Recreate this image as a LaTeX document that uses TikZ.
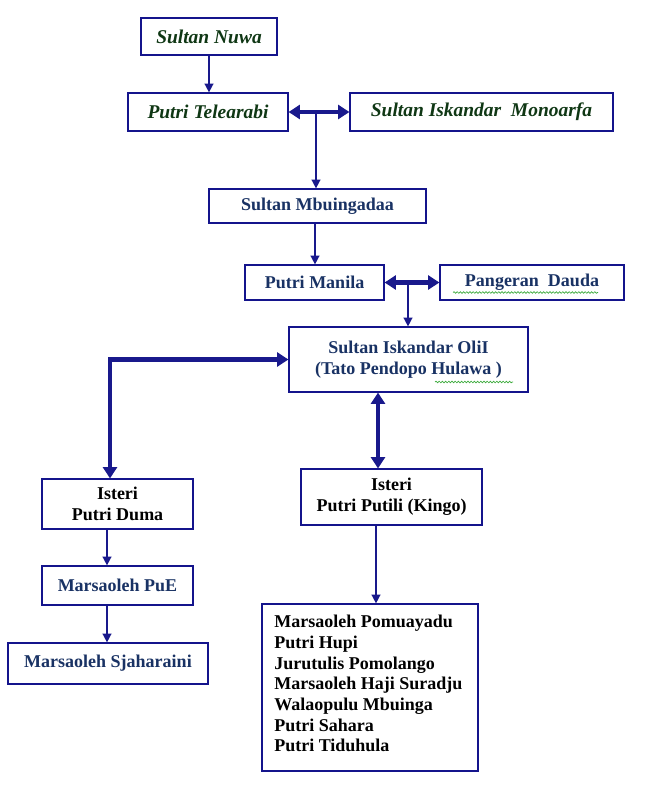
\documentclass[tikz,border=0pt]{standalone}
\usepackage{fontspec}
\setmainfont{Liberation Serif}
\usetikzlibrary{arrows.meta,decorations.pathmorphing,calc}
\definecolor{bordc}{RGB}{20,20,140}
\definecolor{arrc}{RGB}{25,25,140}
\definecolor{greentxt}{RGB}{15,55,20}
\definecolor{navytxt}{RGB}{25,50,100}
\definecolor{squig}{RGB}{60,170,60}
\begin{document}
\begin{tikzpicture}[x=0.75pt,y=-0.75pt,
  box/.style n args={2}{draw=bordc, line width=0.9pt, fill=white, inner sep=0pt,
    minimum width=#1*0.75pt, minimum height=#2*0.75pt, align=center,
    font=\fontsize{13.5}{15.5}\selectfont\bfseries},
  gtxt/.style={text=greentxt, font=\fontsize{14.6}{16}\selectfont\bfseries\itshape},
  ntxt/.style={text=navytxt},
  btxt/.style={text=black},
  thin/.style={draw=arrc, line width=1.1pt, -{Triangle[length=6.5pt,width=6.5pt]}},
  thick/.style={draw=arrc, line width=3.2pt, {Triangle[length=8.5pt,width=10.5pt]}-{Triangle[length=8.5pt,width=10.5pt]}},
  squiggle/.style={draw=squig, line width=0.5pt, decorate, decoration={snake, segment length=2.4pt, amplitude=0.6pt}}
]
\useasboundingbox (0,0) rectangle (658,796);
\fill[white] (0,0) rectangle (658,796);

% nodes
\node[box={136}{37}, gtxt] (nuwa) at (209,36.5) {Sultan Nuwa};
\node[box={160}{38}, gtxt] (telea) at (208,112) {Putri Telearabi};
\node[box={263}{38}, gtxt] (mono) at (481.5,112) {Sultan Iskandar\ \ Monoarfa};
\node[box={217}{34}, ntxt] (mbu) at (317.5,206) {Sultan Mbuingadaa};
\node[box={139}{35}, ntxt] (manila) at (314.5,282.5) {Putri Manila};
\node[box={184}{35}, ntxt] (dauda) at (532,282.5) {Pangeran\ \ Dauda};
\node[box={239}{65}, ntxt] (oli) at (408.5,359.5) {Sultan Iskandar OliI\\(Tato Pendopo Hulawa\ )};
\node[box={151}{50}, btxt] (duma) at (117.5,504) {Isteri\\Putri Duma};
\node[box={151}{39}, ntxt] (pue) at (117.5,585.5) {Marsaoleh PuE};
\node[box={200}{41}, ntxt] (sjah) at (108,663.5) {Marsaoleh Sjaharaini};
\node[box={181}{56}, btxt] (putili) at (391.5,497) {Isteri\\Putri Putili (Kingo)};
\node[box={216}{167}] (list) at (370,687.5) {};
\node[anchor=north west, align=left, inner sep=0pt, text=black,
  font=\fontsize{13.5}{15.5}\selectfont\bfseries] (listtxt) at (274,615)
  {Marsaoleh Pomuayadu\\Putri Hupi\\Jurutulis Pomolango\\Marsaoleh Haji Suradju\\Walaopulu Mbuinga\\Putri Sahara\\Putri Tiduhula};

% spell-check squiggles
\draw[squiggle] (453,292.5) -- (598,292.5);
\draw[squiggle] (435,382) -- (513,382);

% helper coordinates
\coordinate (j1) at (316,113);
\coordinate (j2) at (408,283);
\coordinate (cl) at (110,0);
\coordinate (c3) at (378,0);
\coordinate (c4) at (376,0);
\coordinate (c5) at (107,0);
\coordinate (c6) at (315,0);

% connectors
\draw[thin] (nuwa.south) -- (nuwa.south |- telea.north);
\draw[thick] (telea.east) -- (mono.west);
\draw[thin] (j1) -- (j1 |- mbu.north);
\draw[thin] (c6 |- mbu.south) -- (c6 |- manila.north);
\draw[thick] (manila.east) -- (dauda.west);
\draw[thin] (j2) -- (j2 |- oli.north);
\draw[thick] (cl |- duma.north) -- (cl |- oli.west) -- (oli.west);
\draw[thick] (c3 |- oli.south) -- (c3 |- putili.north);
\draw[thin] (c4 |- putili.south) -- (c4 |- list.north);
\draw[thin] (c5 |- duma.south) -- (c5 |- pue.north);
\draw[thin] (c5 |- pue.south) -- (c5 |- sjah.north);
\end{tikzpicture}
\end{document}
